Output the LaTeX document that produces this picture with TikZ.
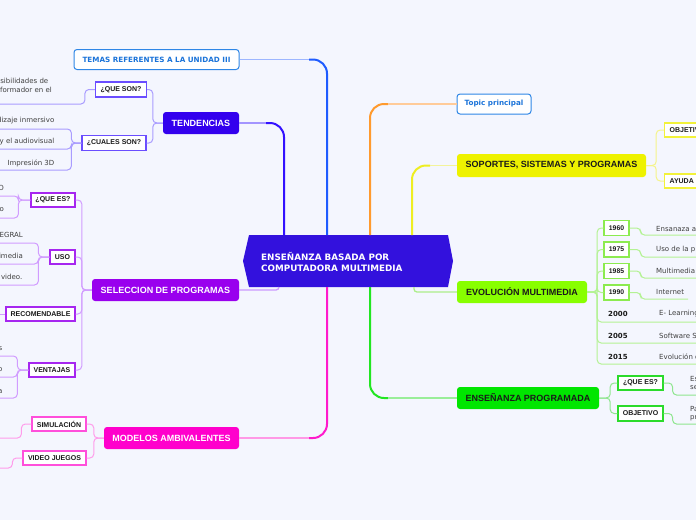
\documentclass[tikz,border=0pt]{standalone}
\usepackage{fontspec}
\newfontfamily\verd{DejaVu Sans}
\newfontfamily\ari{Liberation Sans}
\definecolor{bg}{HTML}{F4F6FE}
\definecolor{ctr}{HTML}{3311DD}
\definecolor{tdF}{HTML}{3300EE}
\definecolor{tdS}{HTML}{3311FF}
\definecolor{tdL}{HTML}{A395FF}
\definecolor{tdC}{HTML}{A99CFF}
\definecolor{tdB}{HTML}{6A4DFF}
\definecolor{teS}{HTML}{1E5BFF}
\definecolor{teL}{HTML}{9DB6FF}
\definecolor{tpB}{HTML}{2E86E6}
\definecolor{tpT}{HTML}{1A73D9}
\definecolor{toS}{HTML}{FF9A2E}
\definecolor{toL}{HTML}{FFCB99}
\definecolor{soF}{HTML}{EEF200}
\definecolor{soS}{HTML}{EEEE22}
\definecolor{soL}{HTML}{F3F39A}
\definecolor{soC}{HTML}{F4F48A}
\definecolor{soB}{HTML}{F2F23A}
\definecolor{seF}{HTML}{9900EE}
\definecolor{seL}{HTML}{CC99FF}
\definecolor{seC}{HTML}{D19CFF}
\definecolor{seB}{HTML}{A626F0}
\definecolor{moF}{HTML}{FF00CC}
\definecolor{moS}{HTML}{FF1ACC}
\definecolor{moL}{HTML}{FF99E6}
\definecolor{moC}{HTML}{FF9CEB}
\definecolor{moB}{HTML}{FF4FDB}
\definecolor{evF}{HTML}{88FF00}
\definecolor{evL}{HTML}{ADEE8A}
\definecolor{evC}{HTML}{B4F294}
\definecolor{evB}{HTML}{8CEB4F}
\definecolor{enF}{HTML}{00E600}
\definecolor{enS}{HTML}{22E622}
\definecolor{enL}{HTML}{99EE99}
\definecolor{enC}{HTML}{8FE68F}
\definecolor{enB}{HTML}{2BDB2B}
\definecolor{ink}{HTML}{1A1A1A}
\definecolor{leafink}{HTML}{404040}
\begin{document}
\begin{tikzpicture}[x=1pt,y=-1pt,
  mainbox/.style={rounded corners=3pt, inner sep=0pt, text=white,
    font=\ari\bfseries\fontsize{9}{10}\selectfont},
  topicbox/.style={draw=tpB, line width=1pt, fill=white, rounded corners=3pt,
    inner sep=0pt, text=tpT, font=\verd\bfseries\fontsize{7.2}{8}\selectfont},
  ctrtext/.style={inner sep=0pt, align=left, text=white,
    font=\verd\bfseries\fontsize{8.8}{11}\selectfont},
  subbox/.style={draw=#1, line width=1.2pt, fill=white, inner sep=0pt, text=ink,
    font=\ari\bfseries\fontsize{7}{8}\selectfont},
  yearbox/.style={subbox=evB, minimum width=25pt, minimum height=15pt,
    font=\ari\bfseries\fontsize{6.8}{8}\selectfont},
  leaf/.style={inner sep=0pt, text=leafink, font=\verd\fontsize{7}{8}\selectfont},
  leafb/.style={inner sep=0pt, text=ink, font=\verd\bfseries\fontsize{7}{8}\selectfont},
  conn/.style={draw=#1, line width=1pt, rounded corners=4pt},
  mainline/.style={draw=#1, line width=2pt, rounded corners=14pt},
  mainlight/.style={draw=#1, line width=1.3pt},
  shortline/.style={draw=#1, line width=1.3pt, rounded corners=3pt}]

\fill[bg] (0,0) rectangle (696,520);
\useasboundingbox (0,0) rectangle (696,520);

% central topic
\fill[ctr] (243,261) -- (249,235) -- (448,235) -- (453,261) -- (448,287) -- (249,287) -- cycle;
\node[ctrtext, anchor=west] (center) at (261,261.5) {ENSEÑANZA BASADA POR\\COMPUTADORA MULTIMEDIA};

\coordinate (oTd) at (284,235);
\coordinate (oTe) at (327,235);
\coordinate (oTo) at (370,235);
\coordinate (oSo) at (412,235);
\coordinate (oMo) at (327,287);
\coordinate (oEn) at (370,287);
\coordinate (oSe) at (279,287);
\coordinate (oEv) at (414,287);
\coordinate (kTd) at (266,123);
\coordinate (kTe) at (309,59.5);
\coordinate (kTo) at (388,104);
\coordinate (kSo) at (430,165.5);
\coordinate (kMo) at (309,438);
\coordinate (kEn) at (388,398);

% main branches
\node[topicbox, minimum width=165pt, minimum height=20pt] (temas) at (156.5,59.5) {TEMAS REFERENTES A LA UNIDAD III};
\node[mainbox, fill=tdF, minimum width=76pt, minimum height=22pt] (tend) at (201,123) {TENDENCIAS};
\node[mainbox, fill=seF, minimum width=147pt, minimum height=22pt] (sel) at (165.5,290) {SELECCION DE PROGRAMAS};
\node[mainbox, fill=moF, minimum width=135pt, minimum height=22pt] (mod) at (171.5,438) {MODELOS AMBIVALENTES};
\node[topicbox, minimum width=74pt, minimum height=20pt] (topic) at (494,104) {Topic principal};
\node[mainbox, fill=soF, text=ink, minimum width=189pt, minimum height=23pt] (sop) at (551.5,165.5) {SOPORTES, SISTEMAS Y PROGRAMAS};
\node[mainbox, fill=evF, text=ink, minimum width=130pt, minimum height=22pt] (evo) at (522,292) {EVOLUCIÓN MULTIMEDIA};
\node[mainbox, fill=enF, text=ink, minimum width=142pt, minimum height=22pt] (ens) at (528,398) {ENSEÑANZA PROGRAMADA};

% main connectors
\draw[mainline=tdS] (oTd) |- (kTd);
\draw[mainlight=tdL] (kTd) -- (tend.east);
\draw[mainline=teS] (oTe) |- (kTe);
\draw[mainlight=teL] (kTe) -- (temas.east);
\draw[mainline=toS] (oTo) |- (kTo);
\draw[mainlight=toL] (kTo) -- (topic.west);
\draw[mainline=soS] (oSo) |- (kSo);
\draw[mainlight=soL] (kSo) -- (sop.west);
\draw[mainline=moS] (oMo) |- (kMo);
\draw[mainlight=moL] (kMo) -- (mod.east);
\draw[mainline=enS] (oEn) |- (kEn);
\draw[mainlight=enL] (kEn) -- (ens.west);
\draw[shortline=seL] (oSe) |- (sel.east);
\draw[shortline=evL] (oEv) |- (evo.west);

% TENDENCIAS
\node[subbox=tdB, minimum width=51pt, minimum height=15pt] (qson) at (121,89.5) {¿QUE SON?};
\node[subbox=tdB, minimum width=64pt, minimum height=15pt] (cson) at (114,143) {¿CUALES SON?};
\draw[conn=tdC] (tend.west) -- ++(-10,0) |- (qson.east);
\draw[conn=tdC] (tend.west) -- ++(-10,0) |- (cson.east);
\coordinate (lq) at (0,104);
\draw[conn=tdC] (qson.west) -- ++(-10,0) |- (lq);
\node[leaf, anchor=east] (tq1) at (48.5,81) {sibilidades de};
\node[leaf, anchor=east] (tq2) at (52,90) {formador en el};
\coordinate (lc1) at (0,129);
\coordinate (lc2) at (0,149);
\coordinate (lc3) at (0,170);
\draw[conn=tdC] (cson.west) -- ++(-10,0) |- (lc1);
\draw[conn=tdC] (cson.west) -- ++(-10,0) |- (lc2);
\draw[conn=tdC] (cson.west) -- ++(-10,0) |- (lc3);
\node[leaf, anchor=east] (tc1) at (54.5,121) {dizaje inmersivo};
\node[leaf, anchor=east] (tc2) at (54.5,142) {y el audiovisual};
\node[leaf, anchor=east] (tc3) at (54.5,163) {Impresión 3D};

% SELECCION DE PROGRAMAS
\node[subbox=seB, minimum width=44pt, minimum height=14pt] (qes) at (53,200) {¿QUE ES?};
\node[subbox=seB, minimum width=25pt, minimum height=14pt] (uso) at (62.5,257) {USO};
\node[subbox=seB, minimum width=69pt, minimum height=14pt] (rec) at (40.5,314) {RECOMENDABLE};
\node[subbox=seB, minimum width=46pt, minimum height=14pt] (ven) at (52,370) {VENTAJAS};
\draw[conn=seC] (sel.west) -- ++(-10,0) |- (qes.east);
\draw[conn=seC] (sel.west) -- ++(-10,0) |- (uso.east);
\draw[conn=seC] (sel.west) -- ++(-10,0) |- (rec.east);
\draw[conn=seC] (sel.west) -- ++(-10,0) |- (ven.east);
\coordinate (le1) at (0,196);
\coordinate (le2) at (0,218);
\draw[conn=seC] (qes.west) -- ++(-12,0) |- (le1);
\draw[conn=seC] (qes.west) -- ++(-12,0) |- (le2);
\node[leaf, anchor=east] (te1) at (4,188) {O};
\node[leaf, anchor=east] (te2) at (4,210) {o};
\coordinate (lu1) at (0,243);
\coordinate (lu2) at (0,264);
\coordinate (lu3) at (0,285);
\draw[conn=seC] (uso.west) -- ++(-11,0) |- (lu1);
\draw[conn=seC] (uso.west) -- ++(-11,0) |- (lu2);
\draw[conn=seC] (uso.west) -- ++(-11,0) |- (lu3);
\node[leaf, anchor=east] (tu1) at (23,235) {EGRAL};
\node[leaf, anchor=east] (tu2) at (23,256) {imedia};
\node[leaf, anchor=east] (tu3) at (22.5,277) {video.};
\coordinate (lr) at (0,314);
\draw[conn=seC] (rec.west) -- (lr);
\coordinate (lv1) at (0,356);
\coordinate (lv2) at (0,377);
\coordinate (lv3) at (0,398);
\draw[conn=seC] (ven.west) -- ++(-11,0) |- (lv1);
\draw[conn=seC] (ven.west) -- ++(-11,0) |- (lv2);
\draw[conn=seC] (ven.west) -- ++(-11,0) |- (lv3);
\node[leaf, anchor=east] (tv1) at (2.5,349) {s};
\node[leaf, anchor=east] (tv2) at (2.5,370) {o};
\node[leaf, anchor=east] (tv3) at (2.5,392) {a};

% MODELOS AMBIVALENTES
\node[subbox=moB, minimum width=54pt, minimum height=14pt] (sim) at (59,424) {SIMULACIÓN};
\node[subbox=moB, minimum width=63pt, minimum height=14pt] (vj) at (54.5,458) {VIDEO JUEGOS};
\draw[conn=moC] (mod.west) -- ++(-10,0) |- (sim.east);
\draw[conn=moC] (mod.west) -- ++(-10,0) |- (vj.east);
\coordinate (us) at (0,438);
\coordinate (uv) at (0,468);
\draw[conn=moC] (sim.west) -- ++(-10,0) |- (us);
\draw[conn=moC] (vj.west) -- ++(-10,0) |- (uv);

% SOPORTES
\node[subbox=soB, anchor=west, minimum height=14pt, inner xsep=5pt] (obj) at (664,130) {OBJETIVO};
\node[subbox=soB, anchor=west, minimum height=14pt, inner xsep=5pt] (ayu) at (664,181) {AYUDA};
\draw[conn=soC] (sop.east) -- ++(10,0) |- (obj.west);
\draw[conn=soC] (sop.east) -- ++(10,0) |- (ayu.west);

% EVOLUCION
\node[yearbox] (y60) at (616.5,228) {1960};
\node[yearbox] (y75) at (616.5,249.5) {1975};
\node[yearbox] (y85) at (616.5,271) {1985};
\node[yearbox] (y90) at (616.5,292.5) {1990};
\draw[conn=evC] (evo.east) -- ++(10,0) |- (y60.west);
\draw[conn=evC] (evo.east) -- ++(10,0) |- (y75.west);
\draw[conn=evC] (evo.east) -- ++(10,0) |- (y85.west);
\draw[conn=evC] (evo.east) -- ++(10,0) |- (y90.west);
\coordinate (r00) at (696,322);
\coordinate (r05) at (696,343);
\coordinate (r15) at (696,364);
\draw[conn=evC] (evo.east) -- ++(10,0) |- (r00);
\draw[conn=evC] (evo.east) -- ++(10,0) |- (r05);
\draw[conn=evC] (evo.east) -- ++(10,0) |- (r15);
\coordinate (u60) at (696,235);
\coordinate (u75) at (696,257);
\coordinate (u85) at (696,278);
\coordinate (u90) at (688,299);
\draw[conn=evC] (y60.east) -- ++(11,0) |- (u60);
\draw[conn=evC] (y75.east) -- ++(11,0) |- (u75);
\draw[conn=evC] (y85.east) -- ++(11,0) |- (u85);
\draw[conn=evC] (y90.east) -- ++(11,0) |- (u90);
\node[leaf, anchor=west] (t60) at (656,228.5) {Ensanaza a};
\node[leaf, anchor=west] (t75) at (656,249.5) {Uso de la p};
\node[leaf, anchor=west] (t85) at (656,271) {Multimedia};
\node[leaf, anchor=west] (t90) at (656,292) {Internet};
\node[leafb, anchor=west] (n00) at (608,314) {2000};
\node[leafb, anchor=west] (n05) at (608,336) {2005};
\node[leafb, anchor=west] (n15) at (608,357) {2015};
\node[leaf, anchor=west] (e00) at (659,314) {E- Learning};
\node[leaf, anchor=west] (e05) at (659,336) {Software S};
\node[leaf, anchor=west] (e15) at (659,357) {Evolución d};

% ENSENANZA PROGRAMADA
\node[subbox=enB, minimum width=45pt, minimum height=14pt] (qes2) at (640.5,383) {¿QUE ES?};
\node[subbox=enB, minimum width=45pt, minimum height=15pt] (objt) at (640.5,413.5) {OBJETIVO};
\draw[conn=enC] (ens.east) -- ++(11,0) |- (qes2.west);
\draw[conn=enC] (ens.east) -- ++(11,0) |- (objt.west);
\coordinate (uqe) at (696,395);
\coordinate (uob) at (696,424);
\draw[conn=enC] (qes2.east) -- ++(9,0) |- (uqe);
\draw[conn=enC] (objt.east) -- ++(9,0) |- (uob);
\node[leaf, anchor=west] (tq3) at (690,379) {Es};
\node[leaf, anchor=west] (tq4) at (690,388) {se};
\node[leaf, anchor=west] (tq5) at (690,409) {Pa};
\node[leaf, anchor=west] (tq6) at (690,418) {pr};
\end{tikzpicture}
\end{document}
